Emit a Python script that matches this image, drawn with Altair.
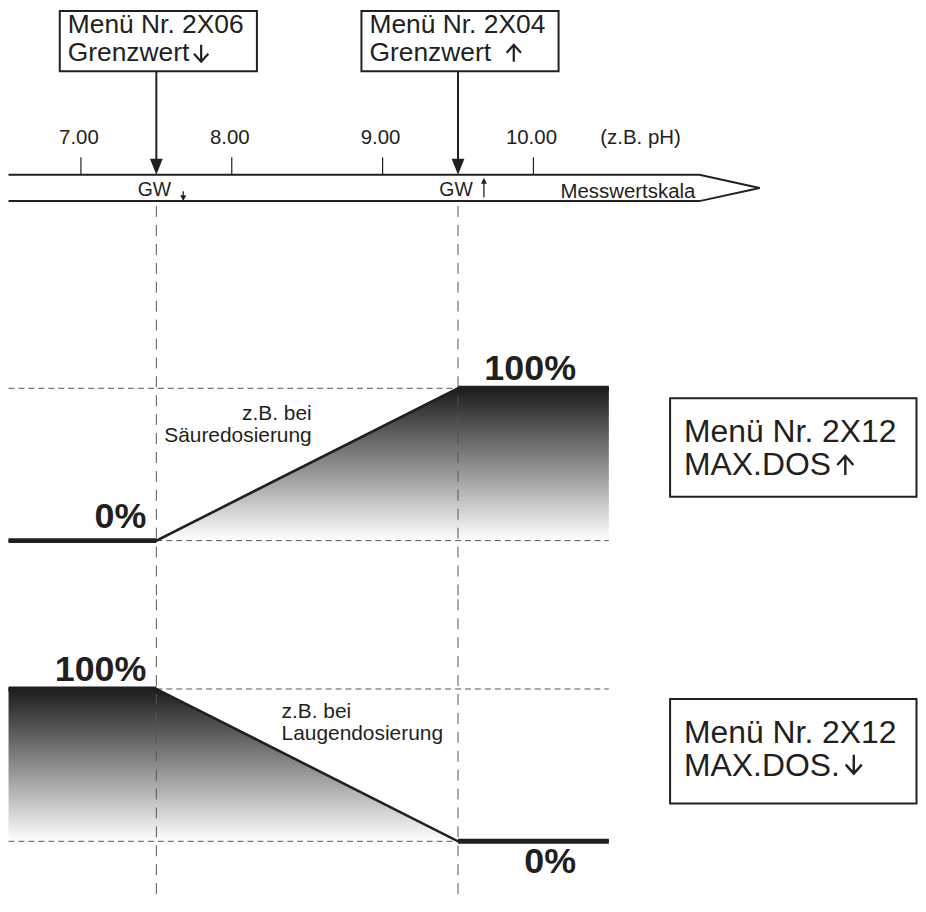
import altair as alt
import pandas as pd

# ---------------- values ----------------
ph_ticks = [7.0, 8.0, 9.0, 10.0]
ph_tick_labels = ["7.00", "8.00", "9.00", "10.00"]
unit_label = ["(z.B. pH)"]
unit_label_ph = [10.71]

gw_ph = [7.5, 9.5]                       # Grenzwert ↓ , Grenzwert ↑
gw_arrow = ["down", "up"]
gw_menu = ["Menü Nr. 2X06", "Menü Nr. 2X04"]
gw_limit = ["Grenzwert", "Grenzwert"]
gw_text = ["GW", "GW"]

scale_ph = [6.52, 11.1, 11.5, 11.1, 6.52]   # measuring-scale arrow outline
scale_side = [1, 1, 0, -1, -1]
scale_name = ["Messwertskala"]

acid_ph = [6.52, 7.5, 9.5, 10.5]
acid_dose = [0, 0, 100, 100]
base_ph = [6.52, 7.5, 9.5, 10.5]
base_dose = [100, 100, 0, 0]

acid_note = ["z.B. bei", "Säuredosierung"]
acid_note_ph = [8.53]
base_note = ["z.B. bei", "Laugendosierung"]
base_note_ph = [8.33]
acid_menu = ["Menü Nr. 2X12", "MAX.DOS"]
base_menu = ["Menü Nr. 2X12", "MAX.DOS."]

# ---------------- styling / layout ----------------
INK = "#231f20"
DASH = "#555555"
FONT = "Liberation Sans"
W = 914
H1, H2, H3 = 292, 300, 300
PX_PER_PH = 151.5
X_MIN = 7.5 - 149 / PX_PER_PH
X_MAX = X_MIN + W / PX_PER_PH
xscale = alt.Scale(domain=[X_MIN, X_MAX], nice=False, zero=False)

ARROW_DOWN = "M0,-1L0,1M-0.85,0.05L0,1L0.85,0.05"
ARROW_UP = "M0,1L0,-1M-0.85,-0.05L0,-1L0.85,-0.05"


def X(field):
    return alt.X(field, type="quantitative", scale=xscale, axis=None)


gradient = alt.Gradient(
    gradient="linear",
    stops=[alt.GradientStop(color="#1c1c1d", offset=0),
           alt.GradientStop(color="#8b8b8d", offset=0.5),
           alt.GradientStop(color="#ffffff", offset=1)],
    x1=1, x2=1, y1=0, y2=1,
)

# ---------------- top panel: measuring scale ----------------
gw_df = pd.DataFrame({"gw": gw_ph, "arrow": gw_arrow, "menu": gw_menu,
                      "limit": gw_limit, "label": gw_text})
tick_df = pd.DataFrame({"ph": ph_ticks, "label": ph_tick_labels})
band_df = pd.DataFrame({"ph": scale_ph, "side": scale_side, "i": range(len(scale_ph))})
unit_df = pd.DataFrame({"ph": unit_label_ph, "label": unit_label})
name_df = pd.DataFrame({"ph": [scale_ph[1]], "label": scale_name})

gw = alt.Chart(gw_df)
gw_down = gw.transform_filter(alt.datum.arrow == "down")
gw_up = gw.transform_filter(alt.datum.arrow == "up")

top_layers = [
    alt.Chart(band_df).mark_line(color=INK, strokeWidth=2, clip=True).encode(
        x=X("ph"),
        y=alt.Y("side:Q", scale=alt.Scale(domain=[-1, 1], range=[192, 165.5]), axis=None),
        order="i:Q"),
    alt.Chart(tick_df).mark_rule(color=INK, strokeWidth=1.2).encode(
        x=X("ph"), y=alt.value(148), y2=alt.value(165.5)),
    alt.Chart(tick_df).mark_text(font=FONT, fontSize=20.5, color=INK, align="center",
                                 baseline="alphabetic", dx=-2).encode(
        x=X("ph"), y=alt.value(135), text="label:N"),
    alt.Chart(unit_df).mark_text(font=FONT, fontSize=20.5, color=INK, align="center",
                                 baseline="alphabetic").encode(
        x=X("ph"), y=alt.value(135), text="label:N"),
    gw.mark_rect(fillOpacity=0, stroke=INK, strokeWidth=2, xOffset=-97, x2Offset=101).encode(
        x=X("gw"), x2="gw", y=alt.value(1), y2=alt.value(61.5)),
    gw.mark_text(font=FONT, fontSize=26.5, color=INK, align="left", baseline="alphabetic",
                 dx=-89).encode(x=X("gw"), y=alt.value(23.5), text="menu:N"),
    gw.mark_text(font=FONT, fontSize=26.5, color=INK, align="left", baseline="alphabetic",
                 dx=-89).encode(x=X("gw"), y=alt.value(51.5), text="limit:N"),
    gw_down.mark_point(shape=ARROW_DOWN, size=289, filled=False, color=INK, opacity=1,
                       strokeWidth=2.2, xOffset=45).encode(x=X("gw"), y=alt.value(43.5)),
    gw_up.mark_point(shape=ARROW_UP, size=289, filled=False, color=INK, opacity=1,
                     strokeWidth=2.2, xOffset=56).encode(x=X("gw"), y=alt.value(43.5)),
    gw.mark_rule(color=INK, strokeWidth=2).encode(
        x=X("gw"), y=alt.value(61.5), y2=alt.value(151)),
    gw.mark_point(shape="M-0.8,-1L0.8,-1L0,1Z", size=256, filled=True, color=INK,
                  opacity=1).encode(x=X("gw"), y=alt.value(157.5)),
    gw.mark_text(font=FONT, fontSize=19.5, color=INK, align="center", baseline="alphabetic",
                 dx=-2).encode(x=X("gw"), y=alt.value(187), text="label:N"),
    # small direction arrows next to "GW"
    gw_down.mark_rule(color=INK, strokeWidth=1.3, xOffset=27).encode(
        x=X("gw"), y=alt.value(182), y2=alt.value(188)),
    gw_down.mark_point(shape="M-1,-1L1,-1L0,1Z", size=36, filled=True, color=INK, opacity=1,
                       xOffset=27).encode(x=X("gw"), y=alt.value(189)),
    gw_up.mark_rule(color=INK, strokeWidth=1.3, xOffset=26).encode(
        x=X("gw"), y=alt.value(173), y2=alt.value(188)),
    gw_up.mark_point(shape="M-1,1L1,1L0,-1Z", size=36, filled=True, color=INK, opacity=1,
                     xOffset=26).encode(x=X("gw"), y=alt.value(171.5)),
    alt.Chart(name_df).mark_text(font=FONT, fontSize=20.5, color=INK, align="right",
                                 baseline="alphabetic", dx=-4).encode(
        x=X("ph"), y=alt.value(188.5), text="label:N"),
    gw.mark_rule(color=DASH, strokeWidth=1, strokeDash=[11, 8]).encode(
        x=X("gw"), y=alt.value(197), y2=alt.value(H1)),
]
top = alt.layer(*top_layers).properties(width=W, height=H1)


# ---------------- dosing panels ----------------
def curve_panel(ph, dose, H, p100, p0, note, note_ph, note_align, note_base,
                menu, box_y, menu_base, label_dy, arrow_shape, arrow_xy):
    k = (p0 - p100) / 100.0
    yscale = alt.Scale(domain=[-(H - p0) / k, 100 + p100 / k], nice=False, zero=False)

    def Y(field):
        return alt.Y(field, type="quantitative", scale=yscale, axis=None, stack=None)

    df = pd.DataFrame({"ph": ph, "dose": dose})
    flats, guides, labels = [], [], []
    for i in range(len(ph) - 1):
        if dose[i] == dose[i + 1]:
            a, b, lvl = ph[i], ph[i + 1], dose[i]
            flats.append({"a": a, "b": b, "dose": lvl})
            if a == ph[0]:
                guides.append({"a": b, "b": ph[-1], "dose": lvl})
                labels.append({"ph": b, "dose": lvl, "label": f"{lvl}%", "dx": -10})
            else:
                guides.append({"a": ph[0], "b": a, "dose": lvl})
                labels.append({"ph": b, "dose": lvl, "label": f"{lvl}%", "dx": -33})
    flats_df = pd.DataFrame(flats)
    guides_df = pd.DataFrame(guides)

    layers = [
        alt.Chart(df).mark_area(fill=gradient, opacity=1, clip=True).encode(
            x=X("ph"), y=Y("dose")),
        alt.Chart(guides_df).mark_rule(color=DASH, strokeWidth=1, strokeDash=[6, 4],
                                       clip=True).encode(
            x=X("a"), x2="b", y=Y("dose")),
        gw.mark_rule(color=DASH, strokeWidth=1, strokeDash=[11, 8]).encode(
            x=X("gw"), y=alt.value(0), y2=alt.value(H)),
        alt.Chart(df).mark_line(color=INK, strokeWidth=2.6, clip=True).encode(
            x=X("ph"), y=Y("dose")),
        alt.Chart(flats_df).mark_rule(color=INK, strokeWidth=5, clip=True).encode(
            x=X("a"), x2="b", y=Y("dose")),
    ]
    for lab, dy in zip(labels, label_dy):
        layers.append(
            alt.Chart(pd.DataFrame([lab])).mark_text(
                font=FONT, fontSize=36, fontWeight="bold", color=INK, align="right",
                baseline="alphabetic", dx=lab["dx"], dy=dy).encode(
                x=X("ph"), y=Y("dose"), text="label:N"))
    note_df = pd.DataFrame({"ph": note_ph})
    for txt, yb in zip(note, note_base):
        layers.append(
            alt.Chart(note_df).mark_text(font=FONT, fontSize=21, color=INK, align=note_align,
                                         baseline="alphabetic").encode(
                x=X("ph"), y=alt.value(yb), text=alt.value(txt)))
    layers.append(
        alt.Chart(note_df).mark_rect(fillOpacity=0, stroke=INK, strokeWidth=2).encode(
            x=alt.value(665), x2=alt.value(912.5), y=alt.value(box_y[0]), y2=alt.value(box_y[1])))
    for txt, yb in zip(menu, menu_base):
        layers.append(
            alt.Chart(note_df).mark_text(font=FONT, fontSize=32, color=INK, align="left",
                                         baseline="alphabetic").encode(
                x=alt.value(679), y=alt.value(yb), text=alt.value(txt)))
    layers.append(
        alt.Chart(note_df).mark_point(shape=arrow_shape, size=361, filled=False, color=INK,
                                      opacity=1, strokeWidth=2.4).encode(
            x=alt.value(arrow_xy[0]), y=alt.value(arrow_xy[1])))
    return alt.layer(*layers).properties(width=W, height=H)


acid = curve_panel(acid_ph, acid_dose, H2, 88, 241, acid_note, acid_note_ph, "right",
                   [120, 142], acid_menu, (98, 197), [142, 175], [-13, -8],
                   ARROW_UP, (841, 165.5))
base = curve_panel(base_ph, base_dose, H3, 90, 243, base_note, base_note_ph, "left",
                   [119, 141], base_menu, (100, 205), [144, 177], [-8, 32],
                   ARROW_DOWN, (849.5, 165.5))

chart = (
    alt.vconcat(top, acid, base, spacing=0, bounds="flush")
    .properties(padding=0, background="white")
    .configure_view(stroke=None)
)

chart.save("out.html", embed_options={"renderer": "svg", "actions": False})
